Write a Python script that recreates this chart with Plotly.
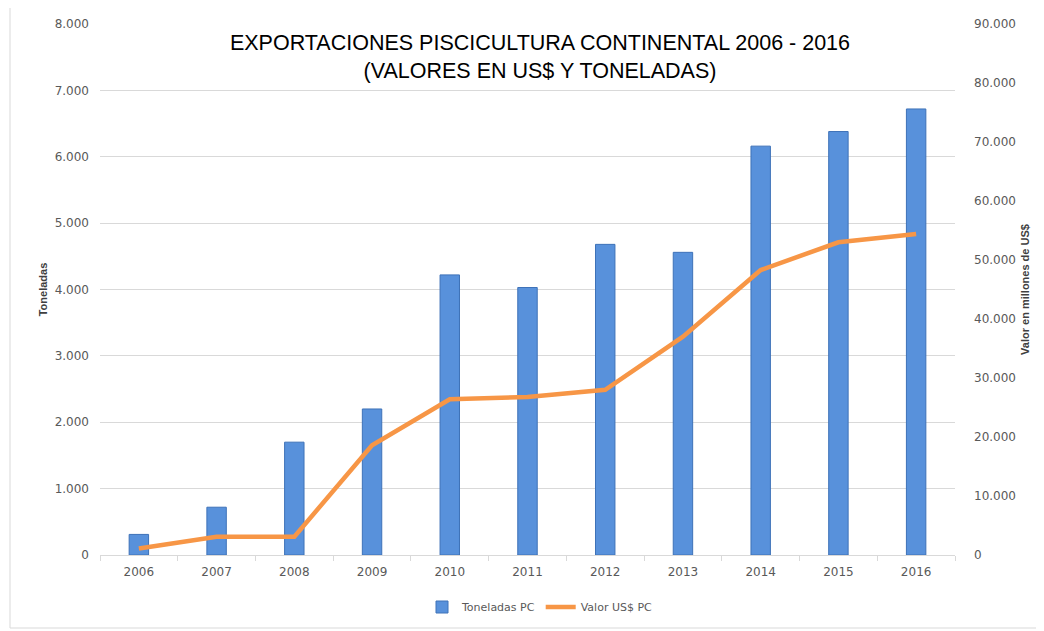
import plotly.graph_objs as go

# data
years = ['2006', '2007', '2008', '2009', '2010', '2011',
         '2012', '2013', '2014', '2015', '2016']
toneladas = [310, 720, 1700, 2200, 4220, 4030, 4680, 4560, 6160, 6380, 6720]
valor_usd = [1100, 3100, 3100, 18600, 26400, 26800, 28000, 37000, 48300, 53000, 54400]

# page body adds an 8px offset, so work in reference pixels minus 8
OFF = 8
W, H = 1044 - OFF, 631 - OFF
L, R, T, B = 100 - OFF, 955 - OFF, 24 - OFF, 555 - OFF


def px(x):
    return (x - OFF - L) / (R - L)


def py(y):
    return (B - (y - OFF)) / (B - T)


trace1 = go.Bar(
    x = years,
    y = toneladas,
    name = 'Toneladas PC',
    width = 0.25,
    marker = dict(color = '#5891DB', line = dict(color = '#3E72B8', width = 1)),
)

trace2 = go.Scatter(
    x = years,
    y = valor_usd,
    mode = 'lines',
    name = 'Valor US$ PC',
    yaxis = 'y2',
    line = dict(color = '#F79646', width = 4.5),
)

tickfont = dict(family = 'DejaVu Sans', size = 12, color = '#595959')
titlefont = dict(family = 'Liberation Sans', size = 11, color = '#404040', weight = 'bold')

layout = go.Layout(
    width = W,
    height = H,
    separators = ',.',
    paper_bgcolor = 'white',
    plot_bgcolor = 'white',
    margin = dict(l = L, r = W - R, t = T, b = H - B, autoexpand = False),
    title = dict(
        text = 'EXPORTACIONES PISCICULTURA CONTINENTAL 2006 - 2016<br>(VALORES EN US$ Y TONELADAS)',
        x = (540 - OFF) / W,
        xanchor = 'center',
        y = 1 - (50 - OFF) / H,
        yanchor = 'middle',
        font = dict(family = 'Liberation Sans', size = 21.5, color = 'black'),
    ),
    xaxis = dict(
        type = 'category',
        automargin = False,
        tickfont = tickfont,
        showline = True,
        linecolor = '#D9D9D9',
        ticks = 'outside',
        tickson = 'boundaries',
        tickcolor = '#D9D9D9',
        ticklen = 5,
        showgrid = False,
        ticklabelstandoff = 6,
    ),
    yaxis = dict(
        range = [0, 8000],
        dtick = 1000,
        automargin = False,
        tickformat = ',.0f',
        tickfont = tickfont,
        gridcolor = '#D9D9D9',
        zeroline = False,
        ticklabelstandoff = 10,
        title = dict(text = 'Toneladas', standoff = 4, font = titlefont),
    ),
    yaxis2 = dict(
        range = [0, 90000],
        dtick = 10000,
        automargin = False,
        tickformat = ',.0f',
        tickfont = tickfont,
        overlaying = 'y',
        side = 'right',
        showgrid = False,
        zeroline = False,
        ticklabelstandoff = 18,
        title = dict(text = 'Valor en millones de US$', standoff = 6, font = titlefont),
    ),
    legend = dict(
        orientation = 'h',
        x = px(540),
        xanchor = 'center',
        y = py(607),
        yanchor = 'middle',
        font = dict(family = 'DejaVu Sans', size = 11, color = '#595959'),
    ),
    shapes = [
        dict(type = 'rect', xref = 'paper', yref = 'paper',
             x0 = px(10), x1 = px(1041), y0 = py(628), y1 = py(4),
             line = dict(color = '#D9D9D9', width = 1), layer = 'below'),
    ],
)

fig = go.Figure(data = [trace1, trace2], layout = layout)
fig.write_html('out.html')
